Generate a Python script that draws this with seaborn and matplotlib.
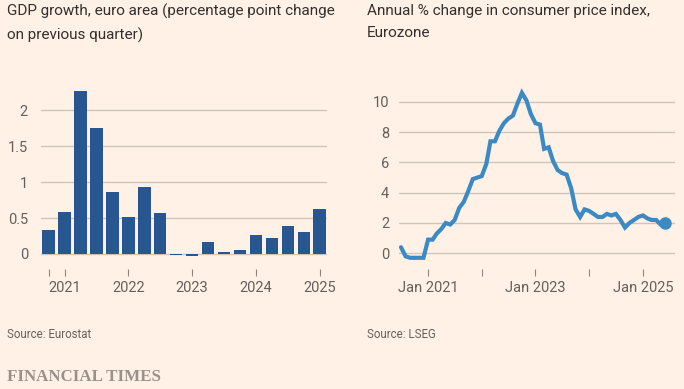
import matplotlib
matplotlib.use("Agg")
import matplotlib.pyplot as plt
import matplotlib.dates as mdates
import seaborn as sns
import pandas as pd
import numpy as np

# ---- data ----
gdp_quarters = ["2020Q4", "2021Q1", "2021Q2", "2021Q3", "2021Q4", "2022Q1", "2022Q2",
                "2022Q3", "2022Q4", "2023Q1", "2023Q2", "2023Q3", "2023Q4", "2024Q1",
                "2024Q2", "2024Q3", "2024Q4", "2025Q1"]
gdp_values = [0.34, 0.59, 2.26, 1.75, 0.86, 0.51, 0.93, 0.57, -0.01, -0.03, 0.17, 0.03,
              0.06, 0.26, 0.22, 0.39, 0.30, 0.62]
gdp_tick_labels = ["", "2021", "2022", "2023", "2024", "2025"]
gdp_tick_quarters = ["2020Q4", "2021Q1", "2022Q1", "2023Q1", "2024Q1", "2025Q1"]

cpi_start = "2020-07-01"
cpi_values = [0.4, -0.2, -0.3, -0.3, -0.3, -0.3,
              0.9, 0.9, 1.3, 1.6, 2.0, 1.9, 2.2, 3.0, 3.4, 4.1, 4.9, 5.0,
              5.1, 5.9, 7.4, 7.4, 8.1, 8.6, 8.9, 9.1, 9.9, 10.6, 10.1, 9.2,
              8.6, 8.5, 6.9, 7.0, 6.1, 5.5, 5.3, 5.2, 4.3, 2.9, 2.4, 2.9,
              2.8, 2.6, 2.4, 2.4, 2.6, 2.5, 2.6, 2.2, 1.7, 2.0, 2.2, 2.4,
              2.5, 2.3, 2.2, 2.2, 1.9, 2.0]
cpi_tick_dates = ["2021-01-01", "2022-01-01", "2023-01-01", "2024-01-01", "2025-01-01"]
cpi_tick_labels = ["Jan 2021", "", "Jan 2023", "", "Jan 2025"]

gdp_title = "GDP growth, euro area (percentage point change\non previous quarter)"
cpi_title = "Annual % change in consumer price index,\nEurozone"

# ---- style ----
BG = "#fff1e5"
GRID = "#cfc5bb"
TXT = "#66605c"
TITLE = "#33302e"
BAR = "#285690"
LINE = "#3c8ac4"

sns.set_theme(style="white")
plt.rcParams["font.family"] = ["Roboto", "DejaVu Sans"]

W, H = 684, 389
fig = plt.figure(figsize=(W / 100, H / 100), dpi=100, facecolor=BG)

def px_axes(x0, y0, x1, y1):
    return fig.add_axes([x0 / W, 1 - y1 / H, (x1 - x0) / W, (y1 - y0) / H])

# ---- left: GDP bars ----
ax1 = px_axes(41, 85, 327, 269)
df_gdp = pd.DataFrame({"q": gdp_quarters, "v": gdp_values})
sns.barplot(data=df_gdp, x="q", y="v", ax=ax1, color=BAR, width=0.78,
            saturation=1, edgecolor="none", zorder=3)
ax1.set_xlim(-0.48, 17.46)
ax1.set_ylim(-0.209, 2.35)
ax1.set_yticks([0, 0.5, 1, 1.5, 2])
ax1.set_yticklabels(["0", "0.5", "1", "1.5", "2"])
ax1.set_xticks([gdp_quarters.index(q) for q in gdp_tick_quarters])
ax1.set_xticklabels(gdp_tick_labels)
ax1.tick_params(axis="y", length=0, pad=9.4, labelsize=10.5, labelcolor=TXT)
ax1.tick_params(axis="x", length=5, width=0.8, color="#8f8680", pad=4,
                labelsize=10.5, labelcolor=TXT, direction="out", bottom=True)
ax1.grid(axis="y", color=GRID, linewidth=1, zorder=0)
ax1.set_xlabel("")
ax1.set_ylabel("")
ax1.set_facecolor(BG)
for s in ax1.spines.values():
    s.set_visible(False)

# ---- right: CPI line ----
ax2 = px_axes(399, 85, 675, 269)
dates = pd.date_range(cpi_start, periods=len(cpi_values), freq="MS")
df_cpi = pd.DataFrame({"d": dates, "v": cpi_values})
sns.lineplot(data=df_cpi, x="d", y="v", ax=ax2, color=LINE, linewidth=3,
             zorder=3, solid_joinstyle="miter")
ax2.plot(df_cpi["d"].iloc[-1], df_cpi["v"].iloc[-1], "o", color=LINE,
         markersize=8, zorder=4)
xl0 = mdates.date2num(pd.Timestamp("2021-01-01")) - (428 - 399) / 53.6 * 365.25
xl1 = mdates.date2num(pd.Timestamp("2025-01-01")) + (675 - 643) / 53.6 * 365.25
ax2.set_xlim(xl0, xl1)
ax2.set_ylim(-1.04, 11.12)
ax2.set_yticks([0, 2, 4, 6, 8, 10])
ax2.set_xticks([mdates.date2num(pd.Timestamp(d)) for d in cpi_tick_dates])
ax2.set_xticklabels(cpi_tick_labels)
ax2.tick_params(axis="y", length=0, pad=7.2, labelsize=10.5, labelcolor=TXT)
ax2.tick_params(axis="x", length=5, width=0.8, color="#8f8680", pad=4,
                labelsize=10.5, labelcolor=TXT, direction="out", bottom=True)
ax2.grid(axis="y", color=GRID, linewidth=1, zorder=0)
ax2.set_xlabel("")
ax2.set_ylabel("")
ax2.set_facecolor(BG)
for s in ax2.spines.values():
    s.set_visible(False)

# ---- texts ----
fig.text(7 / W, 1 - 4 / H, gdp_title, ha="left", va="top", fontsize=11,
         color=TITLE, linespacing=1.72)
fig.text(367 / W, 1 - 4 / H, cpi_title, ha="left", va="top", fontsize=11,
         color=TITLE, linespacing=1.72)
fig.text(7 / W, 1 - 334 / H, "Source: Eurostat", ha="left", va="center",
         fontsize=8.3, color=TXT)
fig.text(367 / W, 1 - 334 / H, "Source: LSEG", ha="left", va="center",
         fontsize=8.3, color=TXT)
fig.text(7 / W, 1 - 377 / H, "FINANCIAL TIMES", ha="left", va="center",
         fontsize=12.2, weight="bold", color="#9a918a",
         family=["Liberation Serif", "DejaVu Serif"])

fig.savefig("out.png", dpi=100, facecolor=BG)
